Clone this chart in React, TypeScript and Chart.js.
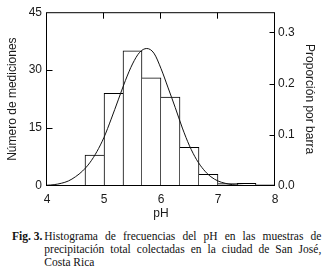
import React, { useEffect, useRef } from "react";
import { Chart, registerables } from "chart.js";

Chart.register(...registerables);

// ---- data ----
const binCenters = [4.833, 5.167, 5.5, 5.833, 6.167, 6.5, 6.833, 7.167, 7.5, 7.833];
const binCounts = [8, 24, 35, 28, 23, 10, 3, 0.6, 0.7, 0.3];

const curvePH = [
  4.0, 4.125, 4.25, 4.375, 4.5, 4.625, 4.75, 4.875, 5.0, 5.125, 5.25, 5.375, 5.5, 5.625, 5.75,
  5.875, 6.0, 6.125, 6.25, 6.375, 6.5, 6.625, 6.75, 6.875, 7.0, 7.125, 7.25, 7.5, 7.75, 8.0,
];
const curveCounts = [
  0.2, 0.35, 0.7, 1.3, 2.4, 3.9, 6.0, 8.9, 12.6, 17.3, 22.3, 27.3, 31.6, 34.6, 35.6,
  34.4, 30.4, 25.4, 20.3, 15.0, 10.4, 6.8, 4.2, 2.4, 1.3, 0.7, 0.35, 0.1, 0.03, 0.0,
];

const xMin = 4;
const xMax = 8;
const xStep = 1;
const countMax = 45;
const countStep = 15;
const propStep = 0.1;

const xTitle = "pH";
const yTitle = "Número de mediciones";
const y2Title = "Proporción por barra";
const figLabel = "Fig. 3.";
const captionLines = [
  "Histograma de frecuencias del pH en las muestras de",
  "precipitación total colectadas en la ciudad de San José,",
  "Costa Rica",
];

const FONT = "'Liberation Sans', Arial, sans-serif";
const INK = "#1a1a1a";

const framePlugin = {
  id: "frameTicks",
  afterDraw(chart: any) {
    const { ctx, chartArea: a, scales } = chart;
    ctx.save();
    ctx.strokeStyle = "#000";
    ctx.lineWidth = 1;
    const L = a.left - 0.5;
    const R = a.right - 0.5;
    const T = a.top + 0.5;
    const B = a.bottom - 0.5;
    ctx.strokeRect(L, T, R - L, B - T);
    ctx.beginPath();
    scales.y.ticks.forEach((t: any) => {
      if (t.value <= scales.y.min || t.value >= scales.y.max) return;
      const yy = Math.round(scales.y.getPixelForValue(t.value)) + 0.5;
      ctx.moveTo(L, yy);
      ctx.lineTo(L + 6, yy);
    });
    scales.y2.ticks.forEach((t: any) => {
      if (t.value <= scales.y2.min || t.value >= scales.y2.max) return;
      const yy = Math.round(scales.y2.getPixelForValue(t.value)) + 0.5;
      ctx.moveTo(R, yy);
      ctx.lineTo(R - 5, yy);
    });
    scales.x.ticks.forEach((t: any) => {
      if (t.value <= scales.x.min || t.value >= scales.x.max) return;
      const xx = Math.round(scales.x.getPixelForValue(t.value)) - 0.5;
      ctx.moveTo(xx, T);
      ctx.lineTo(xx, T + 6);
    });
    ctx.stroke();
    ctx.restore();
  },
};

export default function App() {
  const ref = useRef<HTMLCanvasElement | null>(null);

  useEffect(() => {
    if (!ref.current) return;
    const total = binCounts.reduce((s, v) => s + v, 0);
    const last = binCounts.length - 1;
    const chart = new Chart(ref.current, {
      type: "bar",
      data: {
        datasets: [
          {
            type: "line",
            data: curvePH.map((x, i) => ({ x, y: curveCounts[i] })),
            borderColor: "#111",
            borderWidth: 1,
            pointRadius: 0,
            fill: false,
            cubicInterpolationMode: "monotone",
            xAxisID: "x",
            yAxisID: "y",
            order: 0,
          } as any,
          {
            type: "bar",
            data: binCenters.map((x, i) => ({ x, y: binCounts[i] })),
            backgroundColor: "#fff",
            borderColor: "#000",
            borderWidth: (c: any) => {
              const i = c.dataIndex;
              const h = binCounts[i];
              return {
                top: 1,
                bottom: 0,
                left: i === 0 || binCounts[i - 1] < h ? 1 : 0,
                right: i === last || binCounts[i + 1] <= h ? 1 : 0,
              };
            },
            borderSkipped: false,
            barPercentage: 1,
            categoryPercentage: 1,
            xAxisID: "x",
            yAxisID: "y",
            order: 1,
          } as any,
        ],
      },
      options: {
        animation: false,
        responsive: false,
        maintainAspectRatio: false,
        layout: { padding: { top: 11, left: 0, right: 0, bottom: 0 } },
        plugins: { legend: { display: false }, tooltip: { enabled: false } },
        scales: {
          x: {
            type: "linear",
            position: "bottom",
            min: xMin,
            max: xMax,
            offset: false,
            grid: { display: false, drawTicks: false, offset: false },
            border: { display: false },
            ticks: {
              stepSize: xStep,
              padding: 6,
              color: INK,
              font: { family: FONT, size: 12 },
              callback: (v: any) => String(v),
            },
            title: {
              display: true,
              text: xTitle,
              color: INK,
              font: { family: FONT, size: 12 },
              padding: { top: 0, bottom: 1 },
            },
            afterFit: (s: any) => {
              s.height = 36;
            },
          },
          y: {
            type: "linear",
            position: "left",
            min: 0,
            max: countMax,
            grid: { display: false, drawTicks: false },
            border: { display: false },
            ticks: {
              stepSize: countStep,
              padding: 5,
              color: INK,
              font: { family: FONT, size: 12 },
            },
            title: {
              display: true,
              text: yTitle,
              color: INK,
              font: { family: FONT, size: 12 },
              padding: { top: 5, bottom: 0 },
            },
            afterFit: (s: any) => {
              s.width = 47;
            },
          },
          y2: {
            type: "linear",
            position: "right",
            min: 0,
            max: countMax / total,
            grid: { display: false, drawTicks: false },
            border: { display: false },
            ticks: {
              stepSize: propStep,
              includeBounds: false,
              padding: 3,
              color: INK,
              font: { family: FONT, size: 12 },
              callback: (v: any) => Number(v).toFixed(1),
            },
            title: {
              display: true,
              text: y2Title,
              color: INK,
              font: { family: FONT, size: 12 },
              padding: { top: 6, bottom: 0 },
            },
            afterFit: (s: any) => {
              s.width = 48;
            },
          },
        },
      },
      plugins: [framePlugin],
    } as any);
    return () => chart.destroy();
  }, []);

  const serif = "'Liberation Serif', 'Times New Roman', serif";
  return (
    <div style={{ position: "absolute", left: 0, top: 0, width: 323, height: 274, background: "#fff" }}>
      <canvas ref={ref} width={323} height={222} style={{ display: "block", width: 323, height: 222 }} />
      <div
        style={{
          position: "absolute",
          left: 12,
          top: 230,
          display: "flex",
          fontFamily: serif,
          fontSize: 11.5,
          lineHeight: "13px",
          color: "#111",
        }}
      >
        <div style={{ width: 32.3, flex: "none", fontWeight: "bold", whiteSpace: "nowrap" }}>{figLabel}</div>
        <div style={{ width: 277 }}>
          {captionLines.map((line, i) => (
            <div
              key={i}
              style={{
                textAlign: "justify",
                textAlignLast: i < captionLines.length - 1 ? "justify" : "left",
                whiteSpace: "nowrap",
              } as any}
            >
              {line}
            </div>
          ))}
        </div>
      </div>
    </div>
  );
}
